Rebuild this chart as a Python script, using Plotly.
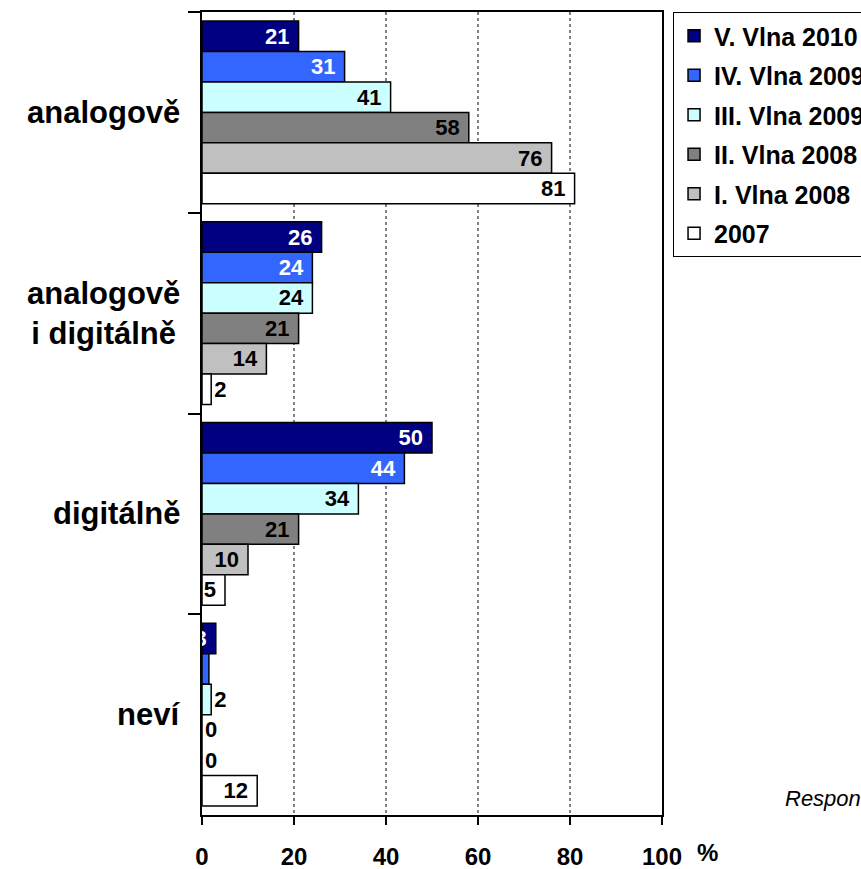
import plotly.graph_objects as go

categories = ["analogově", "analogově<br>i digitálně", "digitálně", "neví"]
series_names = ["V. Vlna 2010", "IV. Vlna 2009", "III. Vlna 2009", "II. Vlna 2008", "I. Vlna 2008", "2007"]
v_2010 = [21, 26, 50, 3]
iv_2009 = [31, 24, 44, 1.5]
iii_2009 = [41, 24, 34, 2]
ii_2008 = [58, 21, 21, 0]
i_2008 = [76, 14, 10, 0]
y_2007 = [81, 2, 5, 12]
series_values = [v_2010, iv_2009, iii_2009, ii_2008, i_2008, y_2007]
colors = ["#000080", "#3366FF", "#CCFFFF", "#808080", "#C0C0C0", "#FFFFFF"]
text_colors = ["white", "white", "black", "black", "black", "black"]
x_ticks = [0, 20, 40, 60, 80, 100]

FONT = "Arial, Liberation Sans, sans-serif"

fig = go.Figure()
for name, vals, col, tcol in zip(series_names, series_values, colors, text_colors):
    fig.add_trace(go.Bar(
        name=name,
        y=categories,
        x=vals,
        orientation="h",
        marker=dict(color=col, line=dict(color="black", width=1.5)),
        text=[f"{v:.0f}\u00a0" if v >= 3 else f"{v:.0f}" for v in vals],
        textposition=["inside" if v >= 3 else "outside" for v in vals],
        insidetextanchor="end",
        constraintext="none",
        textangle=0,
        cliponaxis=True,
        textfont=dict(family=FONT, size=22, color=tcol, weight="bold"),
        legendgroup=name,
        hoverinfo="skip",
    ))

annotations = []
for c in categories:
    annotations.append(dict(
        x=-0.043, xref="paper", y=c, yref="y", text=c, showarrow=False,
        xanchor="right", yanchor="middle", align="center",
        font=dict(family=FONT, size=31, color="black", weight="bold"),
    ))
annotations.append(dict(
    x=1.098, xref="paper", y=-0.0473, yref="paper", text="%", showarrow=False,
    xanchor="center", yanchor="middle",
    font=dict(family=FONT, size=24, color="black", weight="bold"),
))
annotations.append(dict(
    x=1.263, xref="paper", y=0.021, yref="paper", text="Respondenti", showarrow=False,
    xanchor="left", yanchor="middle",
    font=dict(family=FONT, size=22, color="black", style="italic"),
))

fig.update_layout(
    width=861, height=869,
    margin=dict(l=202, r=199, t=12, b=54, autoexpand=False),
    paper_bgcolor="white", plot_bgcolor="white",
    barmode="group", bargap=0.09, bargroupgap=0,
    font=dict(family=FONT, color="black"),
    showlegend=True,
    legend=dict(
        x=1.024, xanchor="left", y=1.0, yanchor="top",
        bordercolor="black", borderwidth=1, bgcolor="white",
        font=dict(family=FONT, size=25, color="black", weight="bold"),
        tracegroupgap=4, itemwidth=30, traceorder="grouped",
    ),
    annotations=annotations,
    xaxis=dict(
        range=[0, 100], tickvals=x_ticks, ticktext=[str(t) for t in x_ticks],
        ticks="outside", ticklen=8, tickwidth=2, tickcolor="black",
        showline=True, linecolor="black", linewidth=2, mirror=True,
        showgrid=True, gridcolor="#808080", gridwidth=2, griddash="3px,3px",
        zeroline=False, ticklabelstandoff=11,
        tickfont=dict(family=FONT, size=24, color="black", weight="bold"),
        automargin=False,
    ),
    yaxis=dict(
        type="category", autorange="reversed", tickson="boundaries",
        ticks="outside", ticklen=12, tickwidth=2, tickcolor="black",
        showline=True, linecolor="black", linewidth=2, mirror=True,
        showticklabels=False, showgrid=False, zeroline=False,
        automargin=False,
    ),
)

fig.write_html(
    "out.html",
    config={"displayModeBar": False},
    post_script="document.body.style.margin='0';document.body.style.padding='0';document.body.style.overflow='hidden';",
)
